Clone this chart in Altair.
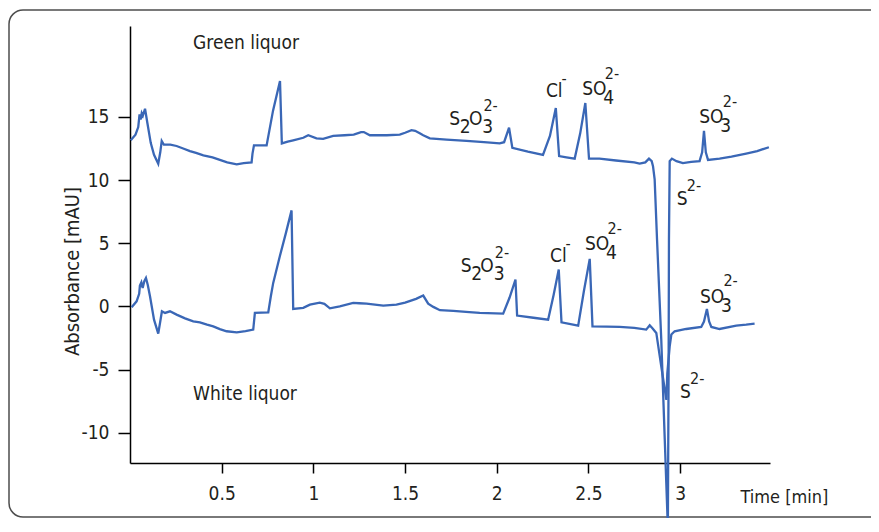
import altair as alt
import pandas as pd

# ---- data ----
green_t = [0.004, 0.03, 0.045, 0.052, 0.058, 0.064, 0.070, 0.082, 0.095, 0.113, 0.131, 0.154, 0.165, 0.173,
           0.185, 0.22, 0.254, 0.29, 0.327, 0.36, 0.4, 0.45, 0.49, 0.53, 0.582, 0.62, 0.663, 0.668, 0.676,
           0.745, 0.78, 0.818, 0.828, 0.86, 0.89, 0.945, 0.972, 1.017, 1.053, 1.108, 1.17, 1.22, 1.26, 1.275,
           1.308, 1.35, 1.40, 1.471, 1.50, 1.535, 1.555, 1.58, 1.599, 1.635, 1.726, 1.835, 1.93, 2.016, 2.04,
           2.067, 2.085, 2.17, 2.252, 2.29, 2.322, 2.34, 2.38, 2.425, 2.455, 2.483, 2.503, 2.56, 2.65, 2.75,
           2.779, 2.81, 2.83, 2.845, 2.852, 2.861, 2.874, 2.897, 2.916, 2.933, 2.937, 2.939, 2.943, 2.955,
           2.98, 3.015, 3.06, 3.106, 3.12, 3.13, 3.14, 3.152, 3.215, 3.28, 3.36, 3.42, 3.484]
green_a = [13.15, 13.6, 14.2, 15.2, 14.8, 15.3, 15.1, 15.65, 14.5, 12.95, 12.0, 11.3, 12.2, 13.1,
           12.8, 12.8, 12.7, 12.5, 12.3, 12.15, 11.95, 11.8, 11.6, 11.4, 11.25, 11.35, 11.4, 12.1, 12.75,
           12.75, 15.5, 17.85, 12.9, 13.05, 13.15, 13.35, 13.55, 13.3, 13.27, 13.5, 13.55, 13.6, 13.8, 13.8,
           13.55, 13.55, 13.55, 13.6, 13.75, 13.95, 13.9, 13.7, 13.55, 13.3, 13.2, 13.1, 13.0, 12.9, 13.0,
           14.15, 12.55, 12.25, 12.0, 13.5, 15.7, 11.9, 11.8, 11.7, 13.7, 16.1, 11.7, 11.7, 11.55, 11.4,
           11.3, 11.4, 11.7, 11.5, 11.1, 10.05, 5.3, -2.6, -10.5, -17.5, -5.3, 5.3, 11.5, 11.7,
           11.5, 11.35, 11.45, 11.5, 12.2, 13.9, 12.2, 11.6, 11.7, 11.85, 12.1, 12.3, 12.6]

white_t = [0.009, 0.036, 0.05, 0.054, 0.062, 0.069, 0.078, 0.087, 0.097, 0.109, 0.131, 0.154, 0.165, 0.174,
           0.191, 0.218, 0.254, 0.3, 0.345, 0.381, 0.42, 0.454, 0.49, 0.527, 0.582, 0.63, 0.672, 0.681,
           0.754, 0.768, 0.781, 0.817, 0.85, 0.881, 0.89, 0.945, 0.981, 1.035, 1.06, 1.09, 1.144, 1.217,
           1.25, 1.29, 1.381, 1.453, 1.5, 1.56, 1.599, 1.626, 1.654, 1.69, 1.763, 1.85, 1.907, 2.035, 2.07,
           2.102, 2.111, 2.2, 2.28, 2.31, 2.338, 2.353, 2.444, 2.475, 2.507, 2.522, 2.6, 2.67, 2.75, 2.815,
           2.834, 2.85, 2.87, 2.897, 2.919, 2.925, 2.93, 2.943, 2.952, 2.97, 3.033, 3.115, 3.13, 3.146,
           3.158, 3.17, 3.215, 3.306, 3.36, 3.406]
white_a = [-0.07, 0.4, 1.0, 1.65, 1.9, 1.45, 2.0, 2.25, 1.7, 0.8, -1.05, -2.15, -1.2, -0.39,
           -0.52, -0.39, -0.65, -0.95, -1.18, -1.26, -1.45, -1.58, -1.8, -1.97, -2.05, -1.95, -1.84, -0.52,
           -0.47, 0.8, 1.86, 3.97, 5.8, 7.6, -0.2, -0.12, 0.14, 0.3, 0.2, -0.15, 0.01, 0.28,
           0.25, 0.22, 0.06, 0.14, 0.3, 0.6, 0.86, 0.22, -0.04, -0.3, -0.35, -0.45, -0.52, -0.57, 0.7,
           2.12, -0.73, -0.9, -1.05, 0.9, 2.92, -1.26, -1.52, 1.2, 3.76, -1.58, -1.6, -1.63, -1.7, -1.84,
           -1.5, -1.75, -2.1, -4.75, -6.85, -7.4, -5.3, -3.16, -2.23, -1.97, -1.79, -1.63, -1.2, -0.2,
           -1.2, -1.63, -1.79, -1.52, -1.45, -1.37]

# ion labels, split in pieces (main text / subscript / superscript)
ion_text = ["S", "2", "O", "3", "2-", "Cl", "-", "SO", "4", "2-", "S", "2-", "SO", "3", "2-",
            "S", "2", "O", "3", "2-", "Cl", "-", "SO", "4", "2-", "S", "2-", "SO", "3", "2-"]
ion_kind = ["base", "base", "base", "base", "sup", "base", "sup", "base", "base", "sup", "base", "sup", "base", "base", "sup",
            "base", "base", "base", "base", "sup", "base", "sup", "base", "base", "sup", "base", "sup", "base", "base", "sup"]
ion_t = [1.741, 1.798, 1.848, 1.921, 1.927, 2.268, 2.353, 2.466, 2.581, 2.589, 2.981, 3.036, 3.104, 3.219, 3.233,
         1.803, 1.861, 1.910, 1.983, 1.989, 2.290, 2.375, 2.481, 2.596, 2.604, 2.999, 3.054, 3.108, 3.223, 3.236]
ion_a = [14.36, 13.69, 14.36, 13.69, 15.47, 16.55, 17.58, 16.74, 16.06, 18.04, 8.03, 9.14, 14.50, 13.81, 15.80,
         2.75, 2.07, 2.75, 2.07, 3.85, 3.49, 4.52, 4.46, 3.79, 5.77, -7.28, -6.17, 0.29, -0.42, 1.60]

sample_names = ["Green liquor", "White liquor"]
sample_t = [0.344, 0.344]
sample_a = [20.34, -7.41]

x_ticks = [0.5, 1, 1.5, 2, 2.5, 3]
y_ticks = [-10, -5, 0, 5, 10, 15]

# ---- tables ----
traces = pd.concat([
    pd.DataFrame({"t": green_t, "A": green_a, "trace": "Green liquor"}),
    pd.DataFrame({"t": white_t, "A": white_a, "trace": "White liquor"}),
])
ions = pd.DataFrame({"text": ion_text, "kind": ion_kind, "t": ion_t, "A": ion_a})
names = pd.DataFrame({"text": sample_names, "t": sample_t, "A": sample_a})

FONT = "DejaVu Sans Condensed, sans-serif"
TXT = "#231f20"
BLUE = "#3a67b6"

xs = alt.Scale(domain=[0, 3.49], nice=False, zero=False)
ys = alt.Scale(domain=[-12.4, 22.2], nice=False, zero=False)

# decorative frame: its right side lies outside the picture, as in the original
border = alt.Chart(pd.DataFrame({"k": [0]})).mark_rect(
    fillOpacity=0, stroke="#4d4d4d", strokeWidth=1.5, cornerRadius=14
).encode(x=alt.value(-121), x2=alt.value(2000), y=alt.value(-16), y2=alt.value(491))

lines = alt.Chart(traces).mark_line(color=BLUE, strokeWidth=2.3, clip=False).encode(
    x=alt.X("t:Q", scale=xs, axis=alt.Axis(
        values=x_ticks, labelExpr="toString(datum.value)", title="Time [min]", titleX=610, titleY=39,
        titleAlign="left", titleBaseline="alphabetic", titleFontSize=18, tickSize=10, labelPadding=11,
        grid=False)),
    y=alt.Y("A:Q", scale=ys, axis=alt.Axis(
        values=y_ticks, labelExpr="toString(datum.value)", title="Absorbance [mAU]", titleX=-52,
        titleY=245, titleAngle=270, titleAlign="center", titleBaseline="alphabetic", titleFontSize=20,
        tickSize=12, labelPadding=9, grid=False)),
    detail="trace:N",
)

base_txt = alt.Chart(ions).transform_filter(alt.datum.kind == "base").mark_text(
    align="left", baseline="alphabetic", font=FONT, fontSize=19, color=TXT
).encode(x=alt.X("t:Q", scale=xs), y=alt.Y("A:Q", scale=ys), text="text:N")

sup_txt = alt.Chart(ions).transform_filter(alt.datum.kind == "sup").mark_text(
    align="left", baseline="alphabetic", font=FONT, fontSize=16, color=TXT
).encode(x=alt.X("t:Q", scale=xs), y=alt.Y("A:Q", scale=ys), text="text:N")

name_txt = alt.Chart(names).mark_text(
    align="left", baseline="alphabetic", font=FONT, fontSize=19, color=TXT
).encode(x=alt.X("t:Q", scale=xs), y=alt.Y("A:Q", scale=ys), text="text:N")

chart = alt.layer(border, lines, base_txt, sup_txt, name_txt).properties(
    width=640, height=437,
    autosize=alt.AutoSizeParams(type="none"),
    padding={"left": 122, "top": 18, "right": 101, "bottom": 55},
).configure_view(stroke=None).configure_axis(
    domainColor="black", domainWidth=1.5, tickColor="black", tickWidth=1.5,
    labelFont=FONT, labelFontSize=19, labelColor=TXT,
    titleFont=FONT, titleFontWeight="normal", titleColor=TXT,
)

chart.save("out.html", embed_options={"renderer": "svg", "actions": False})
